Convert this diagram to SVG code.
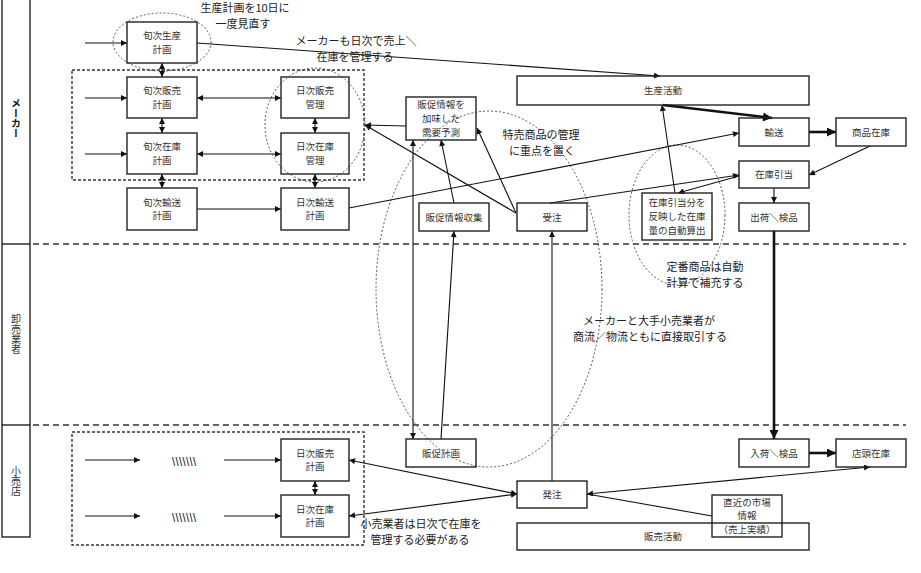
<svg xmlns="http://www.w3.org/2000/svg" width="921" height="573" viewBox="0 0 921 573">
<defs>
<marker id="a" viewBox="0 0 10 10" refX="10" refY="5" markerWidth="7" markerHeight="6" markerUnits="userSpaceOnUse" orient="auto-start-reverse"><path d="M0,0 L10,5 L0,10 z" fill="#111"/></marker>
<marker id="b" viewBox="0 0 10 10" refX="10" refY="5" markerWidth="11" markerHeight="9" markerUnits="userSpaceOnUse" orient="auto-start-reverse"><path d="M0,0 L10,5 L0,10 z" fill="#111"/></marker>
<style>
rect.n{fill:none;stroke:#222;stroke-width:1.4}
text{font-family:"Noto Sans CJK JP","Noto Sans CJK SC",sans-serif;fill:#333}
.t{font-size:9.5px;text-anchor:middle}
.an{font-size:11px;text-anchor:middle;fill:#222}
.bs{font-weight:bold;fill:#111}
.c{fill:none;stroke:#111;stroke-width:1.1}
.e{marker-end:url(#a)}
.d{marker-start:url(#a);marker-end:url(#a)}
.k{fill:none;stroke:#111;stroke-width:2.6;marker-end:url(#b)}
.dash{fill:none;stroke:#333;stroke-width:1.4;stroke-dasharray:6,4}
.drect{fill:none;stroke:#333;stroke-width:1.4;stroke-dasharray:3,2}
.ell{fill:none;stroke:#444;stroke-width:0.9;stroke-dasharray:2,2}
.lane{font-size:10px;text-anchor:middle;writing-mode:vertical-rl}
</style>
</defs>
<rect width="921" height="573" fill="#fff"/>
<g id="lanes">
<rect x="2" y="-2" width="28" height="539" fill="none" stroke="#222" stroke-width="1.4"/>
<line x1="2" y1="244" x2="30" y2="244" stroke="#222" stroke-width="1.4"/>
<line x1="2" y1="425" x2="30" y2="425" stroke="#222" stroke-width="1.4"/>
<line class="dash" x1="33" y1="244" x2="906" y2="244"/>
<line class="dash" x1="33" y1="425" x2="906" y2="425"/>
<text class="lane" x="16" y="118" font-weight="bold" style="fill:#111">メーカー</text>
<text class="lane" x="16" y="334">卸売業者</text>
<text class="lane" x="16" y="481">小売店</text>
</g>
<g id="groups">
<rect class="drect" x="72" y="70" width="292" height="110"/>
<rect class="drect" x="72" y="432" width="292" height="113"/>
<ellipse class="ell" cx="162" cy="42" rx="49" ry="29"/>
<ellipse class="ell" cx="315" cy="125" rx="50" ry="57"/>
<ellipse class="ell" cx="489" cy="289" rx="113" ry="178"/>
<ellipse class="ell" cx="677" cy="215" rx="48" ry="70"/>
</g>
<g id="connectors">
<path class="c e" d="M85,43 H127"/>
<path class="c e" d="M85,98 H127"/>
<path class="c e" d="M85,154 H127"/>
<path class="c d" d="M197,98 H281"/>
<path class="c d" d="M197,154 H281"/>
<path class="c e" d="M197,209 H281"/>
<path class="c d" d="M162,63 V77"/>
<path class="c d" d="M162,118 V133"/>
<path class="c d" d="M162,174 V188"/>
<path class="c d" d="M315,118 V133"/>
<path class="c d" d="M315,174 V188"/>
<path class="c d" d="M315,481 V495"/>
<path class="c e" d="M197,43 L660,76"/>
<path class="k" d="M663,105 L772,118"/>
<path class="k" d="M809,132 H836"/>
<path class="c e" d="M870,146 L809,175"/>
<path class="c e" d="M774,188 V203"/>
<path class="k" d="M774,231 V439"/>
<path class="k" d="M809,453 H836"/>
<path class="c e" d="M349,208 L739,133"/>
<path class="c e" d="M550,203 L739,175"/>
<path class="c e" d="M739,176 L678,193"/>
<path class="c e" d="M675,193 L662,105"/>
<path class="c e" d="M516,213 L477,128"/>
<path class="c e" d="M516,213 L365,125"/>
<path class="c e" d="M406,126 L365,125"/>
<path class="c e" d="M454,203 L441,140"/>
<path class="c d" d="M413,140 V439"/>
<path class="c e" d="M441,439 L454,231"/>
<path class="c e" d="M552,481 V231"/>
<path class="c d" d="M349,460 L517,494"/>
<path class="c d" d="M349,516 L517,494"/>
<path class="c d" d="M587,494 L870,467"/>
<path class="c" d="M712,516 L587,494"/>
<path class="c e" d="M85,460 H140"/>
<path class="c e" d="M224,460 H281"/>
<path class="c e" d="M85,516 H140"/>
<path class="c e" d="M224,516 H281"/>
<text x="184" y="464" font-size="9" font-weight="bold" text-anchor="middle" style="fill:#111">\\\\\\\</text>
<text x="184" y="520" font-size="9" font-weight="bold" text-anchor="middle" style="fill:#111">\\\\\\\</text>
</g>
<g id="n1"><rect class="n" x="127" y="22" width="70" height="41"/><text class="t" x="162" y="39">旬次生産<tspan x="162" dy="13.8">計画</tspan></text></g>
<g id="n2"><rect class="n" x="127" y="77" width="70" height="41"/><text class="t" x="162" y="94">旬次販売<tspan x="162" dy="13.8">計画</tspan></text></g>
<g id="n3"><rect class="n" x="127" y="133" width="70" height="41"/><text class="t" x="162" y="150">旬次在庫<tspan x="162" dy="13.8">計画</tspan></text></g>
<g id="n4"><rect class="n" x="127" y="188" width="70" height="42"/><text class="t" x="162" y="205.5">旬次輸送<tspan x="162" dy="13.8">計画</tspan></text></g>
<g id="n5"><rect class="n" x="281" y="77" width="68" height="41"/><text class="t" x="315" y="94">日次販売<tspan x="315" dy="13.8">管理</tspan></text></g>
<g id="n6"><rect class="n" x="281" y="133" width="68" height="41"/><text class="t" x="315" y="150">日次在庫<tspan x="315" dy="13.8">管理</tspan></text></g>
<g id="n7"><rect class="n" x="281" y="188" width="68" height="42"/><text class="t" x="315" y="205.5">日次輸送<tspan x="315" dy="13.8">計画</tspan></text></g>
<g id="n8"><rect class="n" x="406" y="97" width="70" height="43"/><text class="t" x="441" y="108">販促情報を<tspan x="441" dy="13.8">加味した</tspan><tspan x="441" dy="13.8">需要予測</tspan></text></g>
<g id="n9"><rect class="n" x="419" y="203" width="70" height="28"/><text class="t" x="454" y="220.5">販促情報収集</text></g>
<g id="n10"><rect class="n" x="517" y="203" width="70" height="28"/><text class="t" x="552" y="220.5">受注</text></g>
<g id="n11"><rect class="n" x="517" y="76" width="292" height="29"/><text class="t" x="663" y="94">生産活動</text></g>
<g id="n12"><rect class="n" x="739" y="118" width="70" height="28"/><text class="t" x="774" y="135.5">輸送</text></g>
<g id="n13"><rect class="n" x="836" y="118" width="70" height="28"/><text class="t" x="871" y="135.5">商品在庫</text></g>
<g id="n14"><rect class="n" x="739" y="161" width="70" height="27"/><text class="t" x="774" y="178">在庫引当</text></g>
<g id="n15"><rect class="n" x="739" y="203" width="70" height="28"/><text class="t" x="774" y="220.5">出荷<tspan class="bs">＼</tspan>検品</text></g>
<g id="n16"><rect class="n" x="642" y="193" width="70" height="47"/><text class="t" x="677" y="206">在庫引当分を<tspan x="677" dy="13.8">反映した在庫</tspan><tspan x="677" dy="13.8">量の自動算出</tspan></text></g>
<g id="n17"><rect class="n" x="406" y="439" width="70" height="28"/><text class="t" x="441" y="456.5">販促計画</text></g>
<g id="n18"><rect class="n" x="517" y="481" width="70" height="27"/><text class="t" x="552" y="498">発注</text></g>
<g id="n19"><rect class="n" x="517" y="523" width="292" height="27"/><text class="t" x="663" y="540">販売活動</text></g>
<g id="n20"><rect class="n" x="712" y="495" width="70" height="42"/><text class="t" x="747" y="505.5">直近の市場<tspan x="747" dy="13.8">情報</tspan><tspan x="747" dy="13.8">（売上実績）</tspan></text></g>
<g id="n21"><rect class="n" x="739" y="439" width="70" height="28"/><text class="t" x="774" y="456.5">入荷<tspan class="bs">＼</tspan>検品</text></g>
<g id="n22"><rect class="n" x="836" y="439" width="70" height="28"/><text class="t" x="871" y="456.5">店頭在庫</text></g>
<g id="n23"><rect class="n" x="281" y="439" width="68" height="42"/><text class="t" x="315" y="456.5">日次販売<tspan x="315" dy="13.8">計画</tspan></text></g>
<g id="n24"><rect class="n" x="281" y="495" width="68" height="42"/><text class="t" x="315" y="512.5">日次在庫<tspan x="315" dy="13.8">計画</tspan></text></g>
<g id="notes">
<text class="an" x="245" y="12">生産計画を10日に<tspan x="243" dy="16">一度見直す</tspan></text>
<text class="an" x="356" y="45">メーカーも日次で売上<tspan class="bs">＼</tspan><tspan x="355" dy="16">在庫を管理する</tspan></text>
<text class="an" x="541" y="139">特売商品の管理<tspan x="542" dy="16">に重点を置く</tspan></text>
<text class="an" x="705" y="271">定番商品は自動<tspan x="705" dy="16">計算で補充する</tspan></text>
<text class="an" x="649" y="325">メーカーと大手小売業者が<tspan x="650" dy="16">商流／物流ともに直接取引する</tspan></text>
<text class="an" x="421" y="528">小売業者は日次で在庫を<tspan x="420" dy="16">管理する必要がある</tspan></text>
</g>
</svg>
